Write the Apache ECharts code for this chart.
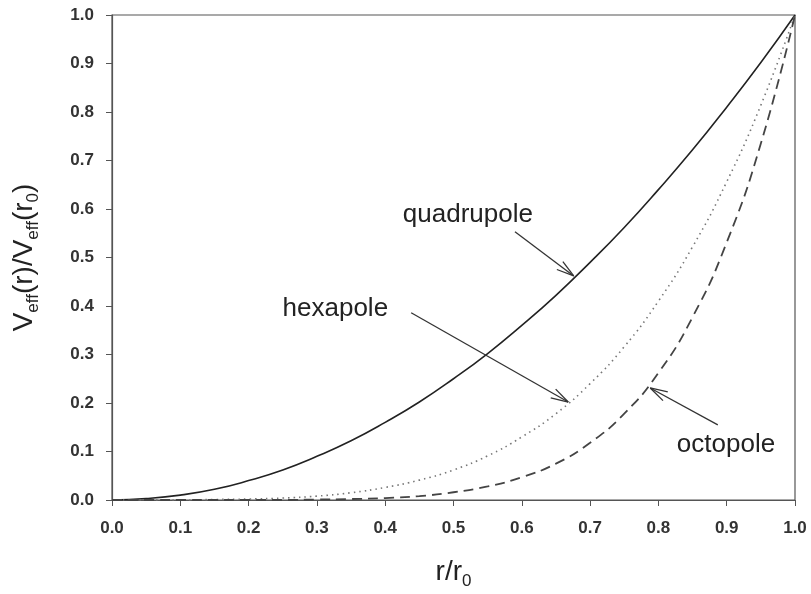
<!DOCTYPE html>
<html>
<head>
<meta charset="utf-8">
<script src="https://cdn.jsdelivr.net/npm/echarts@6/dist/echarts.min.js"></script>
<style>
  html, body { margin: 0; padding: 0; background: #fff; }
  #chart { width: 811px; height: 594px; }
</style>
</head>
<body>
<div id="chart"></div>
<script>
// r/r0 sample points
var rValues = [0, 0.05, 0.1, 0.15, 0.2, 0.25, 0.3, 0.35, 0.4, 0.45, 0.5,
  0.55, 0.6, 0.65, 0.7, 0.75, 0.8, 0.85, 0.9, 0.95, 1.0];
// Veff(r)/Veff(r0)
var quadrupole = [0, 0.003, 0.01, 0.022, 0.04, 0.062, 0.09, 0.122, 0.16, 0.202, 0.25,
  0.302, 0.36, 0.422, 0.49, 0.562, 0.64, 0.722, 0.81, 0.902, 1.0];
var hexapole = [0, 0, 0, 0.001, 0.002, 0.004, 0.008, 0.015, 0.026, 0.041, 0.062,
  0.091, 0.13, 0.178, 0.24, 0.316, 0.41, 0.522, 0.656, 0.814, 1.0];
var octopole = [0, 0, 0, 0, 0, 0, 0.001, 0.002, 0.004, 0.008, 0.016,
  0.028, 0.047, 0.075, 0.118, 0.178, 0.262, 0.377, 0.531, 0.735, 1.0];
var tickLabels = ['0.0', '0.1', '0.2', '0.3', '0.4', '0.5', '0.6', '0.7', '0.8', '0.9', '1.0'];

// annotation arrows: [x from, y from, x to, y to]
var arrows = [
  [0.590, 0.553, 0.676, 0.462],
  [0.438, 0.386, 0.668, 0.202],
  [0.887, 0.155, 0.788, 0.231]
];
// annotation labels: [x, y, text]
var labels = [
  [0.521, 0.588, 'quadrupole'],
  [0.327, 0.394, 'hexapole'],
  [0.899, 0.114, 'octopole']
];

function pairs(ys) {
  var out = [];
  for (var i = 0; i < rValues.length; i++) {
    out.push([rValues[i], ys[i]]);
  }
  return out;
}

var chart = echarts.init(document.getElementById('chart'));

var fontFam = 'Liberation Sans, Arial, sans-serif';
var axisLabelStyle = {
  color: '#333',
  fontSize: 17,
  fontWeight: 'bold',
  fontFamily: fontFam
};
var titleRich = {
  a: { fontSize: 28, color: '#222', fontFamily: fontFam },
  s: { fontSize: 17, color: '#222', fontFamily: fontFam, padding: [18, 0, 0, 0] }
};

var option = {
  backgroundColor: '#fff',
  animation: false,
  grid: {
    left: 112, right: 16, top: 15, bottom: 94,
    outerBoundsMode: 'none',
    show: true,
    borderColor: '#555',
    borderWidth: 1.2
  },
  xAxis: {
    type: 'value',
    min: 0, max: 1, interval: 0.1,
    name: '{a|r/r}{s|0}',
    nameLocation: 'middle',
    nameGap: 55,
    nameTextStyle: { rich: titleRich },
    axisLine: { show: true, onZero: false, lineStyle: { color: '#555', width: 1.2 } },
    axisTick: { show: true, length: 6, lineStyle: { color: '#555' } },
    splitLine: { show: false },
    axisLabel: Object.assign({
      margin: 20,
      formatter: function (v) { return tickLabels[Math.round(v * 10)]; }
    }, axisLabelStyle)
  },
  yAxis: {
    type: 'value',
    min: 0, max: 1, interval: 0.1,
    name: '{a|V}{s|eff}{a|(r)/V}{s|eff}{a|(r}{s|0}{a|)}',
    nameLocation: 'middle',
    nameGap: 70,
    nameTextStyle: { rich: titleRich },
    axisLine: { show: true, onZero: false, lineStyle: { color: '#555', width: 1.2 } },
    axisTick: { show: true, length: 6, lineStyle: { color: '#555' } },
    splitLine: { show: false },
    axisLabel: Object.assign({
      margin: 18,
      formatter: function (v) { return tickLabels[Math.round(v * 10)]; }
    }, axisLabelStyle)
  },
  series: [
    {
      name: 'quadrupole',
      type: 'line',
      data: pairs(quadrupole),
      smooth: true,
      showSymbol: false,
      lineStyle: { color: '#222', width: 1.6 }
    },
    {
      name: 'hexapole',
      type: 'line',
      data: pairs(hexapole),
      smooth: true,
      showSymbol: false,
      lineStyle: { color: '#777', width: 1.6, type: [1.5, 4] }
    },
    {
      name: 'octopole',
      type: 'line',
      data: pairs(octopole),
      smooth: true,
      showSymbol: false,
      lineStyle: { color: '#444', width: 1.8, type: [10, 6] }
    },
    {
      name: 'arrows',
      type: 'custom',
      data: arrows,
      renderItem: function (params, api) {
        var p0 = api.coord([api.value(0), api.value(1)]);
        var p1 = api.coord([api.value(2), api.value(3)]);
        var ang = Math.atan2(p1[1] - p0[1], p1[0] - p0[0]);
        var len = 18, spread = 0.28;
        var h1 = [p1[0] - len * Math.cos(ang - spread), p1[1] - len * Math.sin(ang - spread)];
        var h2 = [p1[0] - len * Math.cos(ang + spread), p1[1] - len * Math.sin(ang + spread)];
        var style = { stroke: '#333', lineWidth: 1.3, fill: null };
        return {
          type: 'group',
          children: [
            { type: 'line', shape: { x1: p0[0], y1: p0[1], x2: p1[0], y2: p1[1] }, style: style },
            { type: 'line', shape: { x1: h1[0], y1: h1[1], x2: p1[0], y2: p1[1] }, style: style },
            { type: 'line', shape: { x1: h2[0], y1: h2[1], x2: p1[0], y2: p1[1] }, style: style }
          ]
        };
      },
      silent: true,
      z: 5
    },
    {
      name: 'labels',
      type: 'custom',
      data: labels,
      renderItem: function (params, api) {
        var p = api.coord([api.value(0), api.value(1)]);
        return {
          type: 'text',
          x: p[0], y: p[1],
          style: {
            text: labels[params.dataIndex][2],
            fill: '#222',
            fontSize: 26,
            fontFamily: fontFam,
            align: 'center',
            verticalAlign: 'middle'
          }
        };
      },
      silent: true,
      z: 6
    }
  ]
};

chart.setOption(option);
</script>
</body>
</html>
